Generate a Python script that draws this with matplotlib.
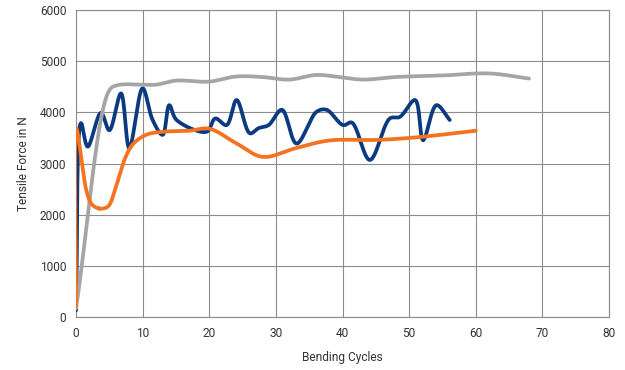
import numpy as np
import matplotlib.pyplot as plt

plt.rcParams['font.family'] = ['Roboto', 'DejaVu Sans']

# readings from the chart (bending cycles, tensile force in N)
blue_x = [0, 0.75, 1.75, 3.75, 5, 6.75, 8, 10, 11.5, 13, 14, 15.1, 19.6, 20.9,
          22.6, 24.1, 26.1, 27.4, 28.9, 30.9, 33.1, 36.1, 37.6, 40.1, 41.4,
          44.1, 47.1, 48.6, 50.9, 52.1, 54.1, 56.1]
blue_y = [130, 3790, 3330, 3990, 3650, 4370, 3300, 4470, 3850, 3560, 4140, 3850,
          3620, 3880, 3750, 4240, 3590, 3690, 3750, 4050, 3390, 4010, 4050,
          3750, 3800, 3070, 3880, 3910, 4240, 3460, 4140, 3850]

gray_x = [0, 5, 6.2, 10, 12, 15, 20, 24, 28, 32, 36, 39, 43, 48, 55, 62, 68]
gray_y = [170, 4430, 4530, 4540, 4540, 4620, 4600, 4700, 4690, 4640, 4730,
          4700, 4640, 4690, 4720, 4760, 4660]

orange_x = [0, 0.05, 0.8, 1.6, 2.4, 3.5, 4.8, 6, 7.3, 8.5, 10.5, 13, 17, 20,
            24, 28, 33, 38, 45, 51, 60]
orange_y = [200, 3690, 3100, 2450, 2200, 2120, 2160, 2550, 3080, 3370, 3560,
            3620, 3640, 3680, 3400, 3130, 3300, 3450, 3460, 3510, 3640]

# pixel scale of the plot area, used for the spline parameter
SX, SY = 533 / 80, 307 / 6000


def smooth(xs, ys, n=30, alpha=0.5):
    # centripetal catmull-rom through the points
    p = np.column_stack([np.array(xs) * SX, np.array(ys) * SY]).astype(float)
    p = np.vstack([2 * p[0] - p[1], p, 2 * p[-1] - p[-2]])
    out = []
    for i in range(1, len(p) - 2):
        p0, p1, p2, p3 = p[i - 1], p[i], p[i + 1], p[i + 2]
        t0 = 0.0
        t1 = t0 + max(np.linalg.norm(p1 - p0), 1e-6) ** alpha
        t2 = t1 + max(np.linalg.norm(p2 - p1), 1e-6) ** alpha
        t3 = t2 + max(np.linalg.norm(p3 - p2), 1e-6) ** alpha
        t = np.linspace(t1, t2, n)[:, None]
        a1 = (t1 - t) / (t1 - t0) * p0 + (t - t0) / (t1 - t0) * p1
        a2 = (t2 - t) / (t2 - t1) * p1 + (t - t1) / (t2 - t1) * p2
        a3 = (t3 - t) / (t3 - t2) * p2 + (t - t2) / (t3 - t2) * p3
        b1 = (t2 - t) / (t2 - t0) * a1 + (t - t0) / (t2 - t0) * a2
        b2 = (t3 - t) / (t3 - t1) * a2 + (t - t1) / (t3 - t1) * a3
        c = (t2 - t) / (t2 - t1) * b1 + (t - t1) / (t2 - t1) * b2
        out.append(c)
    out = np.vstack(out)
    return out[:, 0] / SX, out[:, 1] / SY


fig = plt.figure(figsize=(6.25, 3.7), dpi=100)
ax = fig.add_axes([0.1216, 0.1432, 0.8528, 0.8298])

bx, by = smooth(blue_x, blue_y)
gx, gy = smooth(gray_x, gray_y)
ox, oy = smooth(orange_x, orange_y)
ax.plot(bx, by, color='#0B3A80', lw=2.7, solid_capstyle='round', zorder=3)
ax.plot(gx, gy, color='#A5A5A5', lw=2.7, solid_capstyle='round', zorder=4)
ax.plot(ox, oy, color='#F37321', lw=2.7, solid_capstyle='round', zorder=5)

ax.set_xlim(0, 80)
ax.set_ylim(0, 6000)
ax.set_xticks(range(0, 81, 10))
ax.set_yticks(range(0, 6001, 1000))
ax.grid(True, color='#8C8C8C', lw=0.8)
ax.set_axisbelow(True)
for s in ax.spines.values():
    s.set_color('#8C8C8C')
    s.set_linewidth(0.8)
ax.tick_params(length=0, labelsize=8.6, colors='#333333')
ax.tick_params(axis='x', pad=7)
ax.tick_params(axis='y', pad=7)
ax.set_xlabel('Bending Cycles', fontsize=8.6, color='#333333', labelpad=8)
ax.set_ylabel('Tensile Force in N', fontsize=8.6, color='#333333', labelpad=7)

fig.savefig('out.png', dpi=100)
